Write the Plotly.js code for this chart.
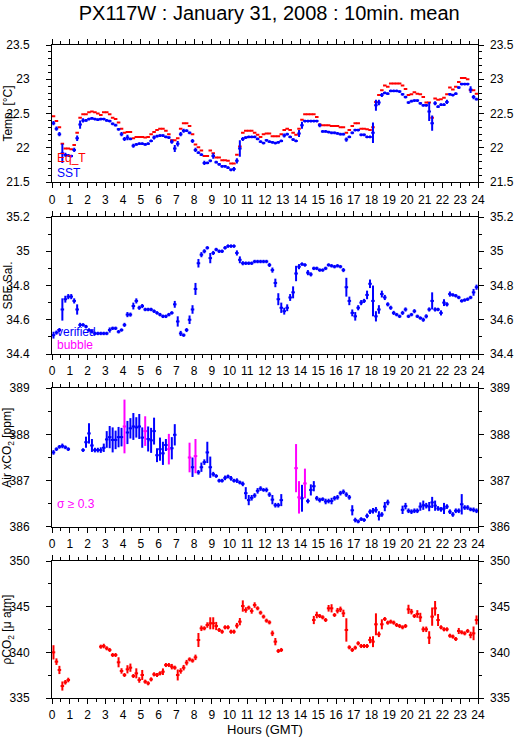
<!DOCTYPE html>
<html><head><meta charset="utf-8">
<script src="https://cdn.plot.ly/plotly-3.0.1.min.js"></script>
<style>body{margin:0;padding:0;background:#fff}#chart{width:515px;height:739px}</style>
</head><body><div id="chart"></div>
<script>
// ---- data: 10-minute means, index i covers hours i/6 .. (i+1)/6 ----
const eqT = [22.46,22.39,22.30,22.06,21.99,21.99,21.98,22.04,22.22,22.44,22.49,22.49,22.52,22.53,22.52,22.50,22.48,22.52,22.52,22.49,22.44,22.42,22.37,22.28,22.22,22.23,22.23,22.14,22.16,22.16,22.16,22.15,22.16,22.20,22.23,22.26,22.28,22.28,22.25,22.20,22.11,22.11,22.14,22.28,22.36,22.36,22.32,22.20,22.05,22.01,21.96,21.88,21.88,21.96,21.92,21.86,21.86,21.82,21.82,21.81,21.77,21.77,21.90,22.02,22.22,22.25,22.25,22.25,22.22,22.19,22.16,22.20,22.21,22.21,22.17,22.17,22.17,22.20,22.26,22.28,22.26,22.22,22.19,22.28,22.41,22.49,22.49,22.49,22.49,22.45,22.34,22.33,22.33,22.33,22.32,22.32,22.32,22.30,22.30,22.22,22.26,22.32,22.36,22.36,22.28,22.28,22.27,22.26,22.30,22.67,22.77,22.84,22.91,22.89,22.94,22.94,22.94,22.94,22.91,22.86,22.77,22.78,22.81,22.79,22.78,22.74,22.66,22.66,22.44,22.72,22.70,22.71,22.73,22.78,22.88,22.85,22.89,22.96,23.02,23.02,23.00,22.84,22.84,22.79];
const sst = [22.36,22.28,22.20,21.92,21.90,21.89,21.88,21.97,22.14,22.34,22.40,22.40,22.42,22.43,22.42,22.41,22.42,22.42,22.40,22.39,22.35,22.33,22.27,22.20,22.13,22.15,22.13,22.03,22.05,22.06,22.06,22.05,22.06,22.10,22.15,22.17,22.18,22.18,22.16,22.15,22.09,21.99,22.06,22.20,22.25,22.25,22.22,22.10,21.97,21.93,21.90,21.78,21.78,21.81,21.88,21.79,21.76,21.73,21.73,21.71,21.68,21.69,21.81,21.99,22.13,22.15,22.16,22.16,22.16,22.13,22.09,22.07,22.11,22.09,22.08,22.07,22.08,22.10,22.18,22.20,22.16,22.12,22.10,22.21,22.33,22.39,22.39,22.39,22.39,22.39,22.33,22.24,22.24,22.23,22.22,22.22,22.21,22.20,22.20,22.12,22.16,22.22,22.26,22.26,22.19,22.19,22.16,22.16,22.22,22.62,22.66,22.77,22.80,22.79,22.83,22.83,22.83,22.82,22.78,22.74,22.66,22.68,22.69,22.69,22.65,22.62,22.62,22.53,22.36,22.65,22.60,22.63,22.63,22.67,22.78,22.77,22.79,22.88,22.93,22.93,22.93,22.85,22.74,22.71];
const sstSd = [0.03,0.03,0.03,0.14,0.03,0.02,0.02,0.03,0.04,0.06,0.03,0.02,0.02,0.02,0.02,0.02,0.02,0.02,0.02,0.02,0.02,0.02,0.02,0.03,0.03,0.04,0.02,0.03,0.02,0.02,0.02,0.02,0.02,0.02,0.03,0.02,0.02,0.02,0.02,0.02,0.03,0.05,0.04,0.03,0.03,0.02,0.02,0.03,0.03,0.02,0.02,0.03,0.02,0.02,0.04,0.02,0.02,0.02,0.02,0.02,0.02,0.03,0.04,0.12,0.03,0.02,0.02,0.02,0.02,0.02,0.02,0.02,0.02,0.02,0.02,0.02,0.02,0.02,0.03,0.02,0.02,0.02,0.02,0.05,0.05,0.02,0.02,0.02,0.02,0.02,0.03,0.02,0.02,0.02,0.02,0.02,0.02,0.02,0.02,0.03,0.02,0.02,0.02,0.02,0.02,0.02,0.02,0.02,0.15,0.08,0.04,0.03,0.02,0.02,0.02,0.02,0.02,0.02,0.02,0.02,0.02,0.02,0.02,0.02,0.02,0.02,0.02,0.14,0.11,0.03,0.02,0.02,0.02,0.03,0.02,0.02,0.02,0.02,0.02,0.02,0.02,0.05,0.03,0.02];
const sal = [34.51,34.525,34.54,34.66,34.72,34.735,34.735,34.71,34.66,34.57,34.57,34.56,34.54,34.53,34.52,34.52,34.52,34.52,34.52,34.54,34.55,34.55,34.53,34.54,34.57,34.63,34.63,34.68,34.71,34.67,34.68,34.66,34.66,34.66,34.65,34.64,34.63,34.62,34.62,34.63,34.64,34.69,34.59,34.52,34.51,34.54,34.60,34.66,34.78,34.93,34.98,35.00,35.02,34.96,34.99,35.01,35.00,35.00,35.02,35.03,35.03,35.03,34.99,34.95,34.93,34.93,34.93,34.93,34.94,34.94,34.94,34.94,34.94,34.92,34.89,34.815,34.72,34.67,34.65,34.67,34.73,34.76,34.87,34.91,34.925,34.92,34.875,34.865,34.90,34.90,34.89,34.89,34.90,34.92,34.915,34.91,34.915,34.91,34.89,34.79,34.71,34.64,34.62,34.67,34.70,34.71,34.745,34.81,34.71,34.62,34.66,34.75,34.73,34.69,34.67,34.64,34.63,34.62,34.64,34.66,34.62,34.63,34.65,34.62,34.61,34.60,34.62,34.66,34.71,34.66,34.66,34.64,34.70,34.69,34.75,34.745,34.74,34.73,34.71,34.715,34.72,34.73,34.76,34.79];
const salSd = [0.02,0.012,0.012,0.065,0.02,0.015,0.015,0.015,0.03,0.012,0.01,0.01,0.01,0.01,0.01,0.01,0.01,0.01,0.01,0.015,0.01,0.01,0.01,0.01,0.012,0.015,0.012,0.02,0.015,0.012,0.012,0.01,0.01,0.01,0.01,0.01,0.01,0.01,0.01,0.01,0.01,0.02,0.03,0.015,0.01,0.012,0.025,0.025,0.035,0.025,0.015,0.012,0.01,0.03,0.012,0.01,0.01,0.01,0.01,0.01,0.01,0.01,0.015,0.02,0.012,0.01,0.01,0.01,0.01,0.01,0.01,0.01,0.01,0.012,0.015,0.025,0.035,0.03,0.02,0.02,0.02,0.035,0.045,0.015,0.01,0.01,0.015,0.012,0.01,0.01,0.01,0.01,0.01,0.01,0.01,0.01,0.01,0.01,0.012,0.055,0.025,0.02,0.025,0.015,0.015,0.012,0.025,0.025,0.09,0.03,0.025,0.02,0.015,0.012,0.012,0.012,0.01,0.01,0.012,0.012,0.01,0.01,0.012,0.01,0.01,0.012,0.012,0.012,0.05,0.012,0.01,0.015,0.02,0.012,0.015,0.01,0.01,0.01,0.01,0.01,0.01,0.01,0.02,0.015];
const xco2 = [387.61,387.68,387.73,387.75,387.72,387.68,null,null,null,null,387.66,387.83,388.02,387.76,387.66,387.66,387.66,387.71,387.89,387.94,387.88,387.88,387.94,387.94,388.17,388.04,388.13,388.17,388.15,388.17,387.93,388.07,387.90,387.87,388.07,387.55,387.68,387.59,387.77,387.68,387.70,387.99,null,null,null,null,387.50,387.29,387.53,387.18,387.29,387.40,387.61,387.29,387.14,387.10,387.00,387.00,387.06,387.09,387.05,387.00,387.00,386.96,386.93,386.73,386.58,386.63,386.68,386.78,386.83,386.80,386.80,386.70,386.59,386.47,386.47,386.58,null,null,null,null,387.27,386.64,386.62,386.94,386.56,386.80,386.88,386.62,386.58,386.60,386.55,386.56,386.56,386.62,386.64,386.73,386.76,386.70,386.64,386.36,386.15,386.12,386.17,386.15,386.24,386.33,386.35,386.37,386.24,386.27,386.44,386.53,null,null,null,null,386.37,386.45,386.35,386.33,386.35,386.35,386.44,386.47,386.46,386.44,386.53,386.46,386.40,386.38,386.40,386.44,386.33,386.27,386.35,386.35,386.49,386.42,386.42,386.38,386.37,386.35];
const xco2Sd = [0.05,0.04,0.04,0.05,0.04,0.04,null,null,null,null,0.04,0.12,0.22,0.14,0.05,0.05,0.06,0.09,0.18,0.24,0.27,0.2,0.22,0.2,0.58,0.25,0.22,0.29,0.22,0.27,0.22,0.32,0.27,0.27,0.29,0.15,0.25,0.25,0.13,0.33,0.24,0.23,null,null,null,null,0.32,0.21,0.37,0.05,0.1,0.06,0.23,0.23,0.05,0.04,0.04,0.04,0.05,0.04,0.05,0.04,0.05,0.04,0.05,0.13,0.11,0.06,0.05,0.06,0.05,0.04,0.05,0.05,0.1,0.05,0.05,0.13,null,null,null,null,0.52,0.35,0.29,0.32,0.05,0.12,0.11,0.05,0.05,0.04,0.06,0.05,0.07,0.05,0.05,0.05,0.05,0.05,0.05,0.11,0.05,0.04,0.04,0.04,0.05,0.05,0.06,0.06,0.1,0.05,0.1,0.06,null,null,null,null,0.09,0.07,0.05,0.05,0.05,0.05,0.09,0.1,0.06,0.1,0.12,0.11,0.05,0.05,0.12,0.05,0.05,0.05,0.05,0.05,0.22,0.05,0.05,0.04,0.05,0.05];
const pco2 = [340.0,338.98,338.07,336.31,336.72,336.97,null,null,null,null,null,null,null,null,null,null,340.62,340.69,340.44,340.26,339.71,339.71,338.91,337.96,337.52,338.14,338.32,337.41,337.70,336.97,337.52,336.79,336.61,337.04,337.59,337.52,337.70,337.88,338.61,338.61,338.43,338.32,337.52,337.96,338.32,338.87,339.23,339.09,339.45,341.35,342.63,342.63,342.99,343.18,343.18,342.88,342.45,342.26,342.74,342.74,342.26,342.26,342.92,343.36,345.07,344.64,344.89,344.53,345.18,344.82,344.34,343.91,343.47,343.28,342.08,341.17,340.15,340.26,null,null,null,null,null,null,null,null,null,null,343.54,344.09,343.98,343.83,343.54,344.82,344.82,344.09,344.56,344.71,344.27,342.45,340.55,340.26,340.51,340.99,340.69,340.69,340.69,341.35,341.17,343.07,341.97,343.07,343.65,343.25,343.36,343.25,342.99,342.88,342.74,342.88,344.71,344.45,343.98,344.20,343.83,342.52,342.52,341.61,343.91,344.82,343.54,342.74,342.52,342.52,341.82,341.72,341.46,342.34,342.19,342.08,342.34,341.90,342.08,343.54];
const pco2Sd = [0.78,0.36,0.45,0.5,0.25,0.25,null,null,null,null,null,null,null,null,null,null,0.22,0.25,0.22,0.22,0.22,0.22,0.55,0.3,0.22,0.45,0.45,0.22,0.55,0.3,0.55,0.22,0.22,0.22,0.22,0.22,0.22,0.36,0.22,0.22,0.3,0.22,0.6,0.3,0.3,0.3,0.22,0.22,0.3,0.77,0.3,0.22,0.3,0.66,0.66,0.45,0.22,0.22,0.22,0.22,0.22,0.22,0.3,0.4,0.62,0.3,0.22,0.3,0.3,0.22,0.22,0.22,0.22,0.22,0.3,0.4,0.22,0.22,null,null,null,null,null,null,null,null,null,null,0.45,0.36,0.22,0.22,0.22,0.36,0.45,0.22,0.3,0.3,0.4,1.28,0.22,0.22,0.22,0.22,0.22,0.22,0.22,0.36,0.6,1.2,0.3,0.55,0.22,0.22,0.22,0.22,0.22,0.22,0.22,0.22,0.5,0.3,0.22,0.42,0.5,0.3,0.3,0.7,1.0,0.8,0.66,0.22,0.22,0.22,0.22,0.22,0.22,0.33,0.22,0.22,0.22,0.36,0.75,0.5];
const hourTicks = [0,1,2,3,4,5,6,7,8,9,10,11,12,13,14,15,16,17,18,19,20,21,22,23,24];
const sigmaLimit = 0.3;

// ---- build ----
const hours = sst.map((_, i) => (i + 0.5) / 6);
const RED = '#ff0000', BLUE = '#0000ff', MAG = '#ff00ff';
const TH = 2, HALF = 0.1;
function pts(y, sd, color, xa, ya) {
  const t = { type: 'scatter', mode: 'markers', x: hours, y: y, xaxis: xa, yaxis: ya,
    marker: { size: 2, color: 'rgba(0,0,0,0)', line: { width: 0 } }, hoverinfo: 'skip', showlegend: false,
    error_x: { type: 'constant', value: HALF, width: 0, thickness: TH, color: color, visible: true } };
  if (sd) t.error_y = { type: 'data', array: sd, width: 0, thickness: TH, color: color, visible: true };
  return t;
}
const xBlue = xco2.map((v, i) => (xco2Sd[i] !== null && xco2Sd[i] < sigmaLimit) ? v : null);
const xMag = xco2.map((v, i) => (xco2Sd[i] !== null && xco2Sd[i] >= sigmaLimit) ? v : null);

const traces = [
  pts(eqT, null, RED, 'x', 'y'),
  pts(sst, sstSd, BLUE, 'x', 'y'),
  pts(sal, salSd, BLUE, 'x2', 'y2'),
  pts(xBlue, xco2Sd, BLUE, 'x3', 'y3'),
  pts(xMag, xco2Sd, MAG, 'x3', 'y3'),
  pts(pco2, pco2Sd, RED, 'x4', 'y4')
];
['y5', 'y6', 'y7', 'y8'].forEach((ya, k) => traces.push({ type: 'scatter', mode: 'markers', x: [null], y: [null],
  xaxis: ['x', 'x2', 'x3', 'x4'][k], yaxis: ya, hoverinfo: 'skip', showlegend: false }));

const FONT = 'Liberation Sans, Arial, sans-serif';
const tickFont = { family: FONT, size: 12, color: '#000' };
function xax(anchor, withTitle) {
  const a = { domain: [0, 1], range: [0, 24], anchor: anchor, tickvals: hourTicks, ticktext: hourTicks.map(String),
    ticks: 'outside', ticklen: 5, tickwidth: 1, tickcolor: '#000', showline: true, linecolor: '#000', linewidth: 1,
    mirror: 'ticks', showgrid: false, zeroline: false, tickfont: tickFont, ticklabelstandoff: 1,
    minor: { dtick: 0.5, tick0: 0, ticks: 'outside', ticklen: 3, tickcolor: '#000', showgrid: false } };
  if (withTitle) a.title = { text: 'Hours (GMT)', font: { family: FONT, size: 13, color: '#000' }, standoff: 3 };
  return a;
}
function yax(dom, range, dtick, minor, anchor) {
  return { domain: dom, range: range, anchor: anchor, dtick: dtick, tick0: range[0], ticks: 'outside', ticklen: 5,
    tickcolor: '#000', showline: true, linecolor: '#000', linewidth: 1, mirror: 'ticks', showgrid: false,
    zeroline: false, tickfont: tickFont, ticklabelstandoff: 14,
    minor: { dtick: minor, ticks: 'outside', ticklen: 3, tickcolor: '#000', showgrid: false } };
}
function yright(over, anchor, range, dtick) {
  return { overlaying: over, side: 'right', anchor: anchor, range: range, dtick: dtick, tick0: range[0],
    ticks: '', showline: false, showgrid: false, zeroline: false, tickfont: tickFont, ticklabelstandoff: 11 };
}
const d1 = [0.790, 1], d2 = [0.5268, 0.7366], d3 = [0.2619, 0.4747], d4 = [0, 0.2098];
const r1 = [21.5, 23.5], r2 = [34.4, 35.2], r3 = [386, 389], r4 = [335, 350];

function ytitle(text, yref, dy) {
  return { text: text, xref: 'paper', x: 0, xshift: -44, xanchor: 'center', yref: yref, y: 0.5 + (dy || 0), yanchor: 'middle',
    textangle: -90, showarrow: false, font: { family: FONT, size: 12, color: '#000' } };
}
function label(text, yref, y, color) {
  return { text: text, xref: 'paper', x: 0, xshift: 3, xanchor: 'left', yref: yref, y: y, yanchor: 'middle',
    showarrow: false, font: { family: FONT, size: 12, color: color } };
}

const layout = {
  width: 515, height: 739, margin: { l: 52, r: 37, t: 45, b: 41 },
  paper_bgcolor: '#fff', plot_bgcolor: '#fff', showlegend: false,
  title: { text: 'PX117W : January 31, 2008 : 10min. mean', font: { family: FONT, size: 20, color: '#000' },
    x: 0.51, xanchor: 'center', xref: 'paper', y: 1 - 13 / 739, yref: 'container', yanchor: 'middle' },
  xaxis: xax('y'), xaxis2: xax('y2'), xaxis3: xax('y3'), xaxis4: xax('y4', true),
  yaxis: yax(d1, r1, 0.5, 0.1, 'x'), yaxis2: yax(d2, r2, 0.2, 0.1, 'x2'),
  yaxis3: yax(d3, r3, 1, 0.5, 'x3'), yaxis4: yax(d4, r4, 5, 2.5, 'x4'),
  yaxis5: yright('y', 'x', r1, 0.5), yaxis6: yright('y2', 'x2', r2, 0.2),
  yaxis7: yright('y3', 'x3', r3, 1), yaxis8: yright('y4', 'x4', r4, 5),
  annotations: [
    ytitle('Temp. [°C]', 'y domain'), ytitle('SBE Sal.', 'y2 domain'),
    ytitle('Air xCO<sub>2</sub> [ppm]', 'y3 domain', 0.07), ytitle('ρCO<sub>2</sub> [μ atm]', 'y4 domain'),
    label('Eq_T', 'y domain', 0.175, RED), label('SST', 'y domain', 0.068, BLUE),
    label('verified', 'y2 domain', 0.158, BLUE), label('bubble', 'y2 domain', 0.063, MAG),
    label('σ ≥ 0.3', 'y3 domain', 0.165, MAG)
  ]
};
Plotly.newPlot('chart', traces, layout, { staticPlot: true, displayModeBar: false });
</script></body></html>
